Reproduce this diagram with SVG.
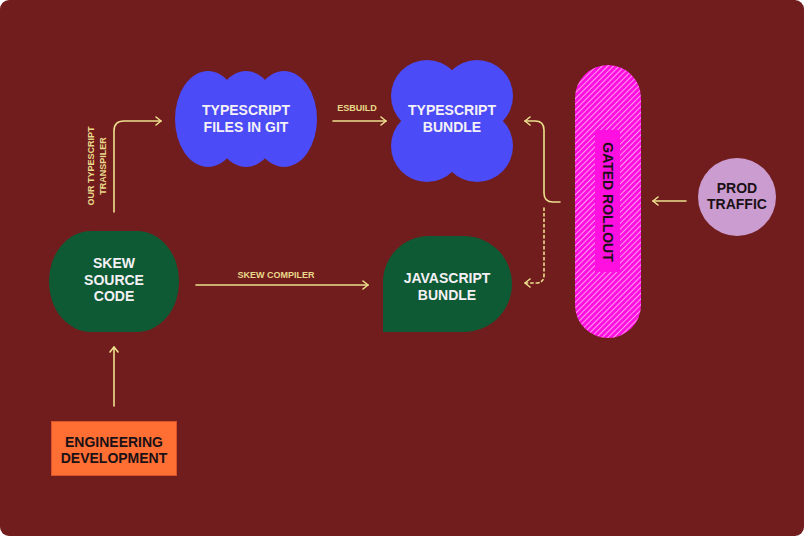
<svg xmlns="http://www.w3.org/2000/svg" width="804" height="536" viewBox="0 0 804 536">
<style>
.t{font-family:"Liberation Sans",Arial,sans-serif;font-weight:700;font-size:14px;text-anchor:middle}
.w{fill:#F4F1F6}
.k{fill:#1A1116}
.lbl{font-family:"Liberation Sans",Arial,sans-serif;font-weight:700;font-size:9px;fill:#E9D98A;text-anchor:middle}
.c{fill:none;stroke:#EDE08E;stroke-width:1.6;stroke-linecap:round;stroke-linejoin:round}
.d{stroke-dasharray:2.5 3}
</style>
<defs>
<marker id="ah" viewBox="0 0 10 10" refX="9" refY="5" markerWidth="10" markerHeight="10" markerUnits="userSpaceOnUse" orient="auto">
<path d="M4,1 L9,5 L4,9" fill="none" stroke="#EDE08E" stroke-width="1.6" stroke-linecap="round" stroke-linejoin="round"/>
</marker>
<pattern id="hatch" patternUnits="userSpaceOnUse" width="4" height="4" patternTransform="rotate(45)">
<rect width="4" height="4" fill="#FF10E0"/>
<rect x="0" y="0" width="1" height="4" fill="#FF9CEF"/>
</pattern>
</defs>
<rect x="0" y="0" width="804" height="536" fill="#FFFFFF"/>
<rect x="0" y="0" width="804" height="536" rx="9" fill="#721D1D"/>

<g id="connectors">
<path class="c" d="M114,212 V131 Q114,121 124,121 H161" marker-end="url(#ah)"/>
<path class="c" d="M333,121 H386" marker-end="url(#ah)"/>
<path class="c" d="M196,285 H368" marker-end="url(#ah)"/>
<path class="c" d="M114,406 V347" marker-end="url(#ah)"/>
<path class="c" d="M686,201 H653" marker-end="url(#ah)"/>
<path class="c" d="M560,202 H553 Q544,202 544,193 V130 Q544,121 535,121 H525" marker-end="url(#ah)"/>
<path class="c d" d="M544,208 V275 Q544,283 536,283 H525" marker-end="url(#ah)"/>
<text class="lbl" x="357" y="111">ESBUILD</text>
<text class="lbl" x="276" y="278">SKEW COMPILER</text>
<text class="lbl" transform="translate(94,166) rotate(-90)">OUR TYPESCRIPT</text>
<text class="lbl" transform="translate(106,166) rotate(-90)">TRANSPILER</text>
</g>

<g id="ts-files">
<ellipse cx="208" cy="119" rx="33" ry="48" fill="#4B4BF7"/>
<ellipse cx="246" cy="119" rx="33" ry="48" fill="#4B4BF7"/>
<ellipse cx="284" cy="119" rx="33" ry="48" fill="#4B4BF7"/>
<text class="t w" x="246" y="115">TYPESCRIPT</text>
<text class="t w" x="246" y="132">FILES IN GIT</text>
</g>

<g id="ts-bundle">
<circle cx="427" cy="96" r="36" fill="#4B4BF7"/>
<circle cx="477" cy="96" r="36" fill="#4B4BF7"/>
<circle cx="427" cy="146" r="36" fill="#4B4BF7"/>
<circle cx="477" cy="146" r="36" fill="#4B4BF7"/>
<rect x="420" y="90" width="64" height="62" fill="#4B4BF7"/>
<text class="t w" x="452" y="115">TYPESCRIPT</text>
<text class="t w" x="452" y="132">BUNDLE</text>
</g>

<g id="js-bundle">
<path d="M383,332 V282 A46,46 0 0 1 429,236 H464 A48,48 0 0 1 464,332 Z" fill="#0E5A34"/>
<text class="t w" x="447" y="283">JAVASCRIPT</text>
<text class="t w" x="447" y="300">BUNDLE</text>
</g>

<g id="skew-source">
<rect x="49" y="231" width="130" height="101" rx="42" ry="50" fill="#0E5A34"/>
<text class="t w" x="114" y="268">SKEW</text>
<text class="t w" x="114" y="285">SOURCE</text>
<text class="t w" x="114" y="301">CODE</text>
</g>

<g id="engineering">
<rect x="51.5" y="421.5" width="125" height="54" fill="#FF6E33" stroke="#D9532A" stroke-width="1"/>
<text class="t k" x="114" y="447">ENGINEERING</text>
<text class="t k" x="114" y="463">DEVELOPMENT</text>
</g>

<g id="gated-rollout">
<rect x="575" y="65" width="66" height="273" rx="33" fill="url(#hatch)"/>
<rect x="595" y="130" width="25" height="142" fill="#FF10E0"/>
<text class="t k" transform="translate(603,202) rotate(90)">GATED ROLLOUT</text>
</g>

<g id="prod-traffic">
<circle cx="737" cy="197" r="39" fill="#CB9CCF"/>
<text class="t k" x="737" y="193">PROD</text>
<text class="t k" x="737" y="209">TRAFFIC</text>
</g>
</svg>
